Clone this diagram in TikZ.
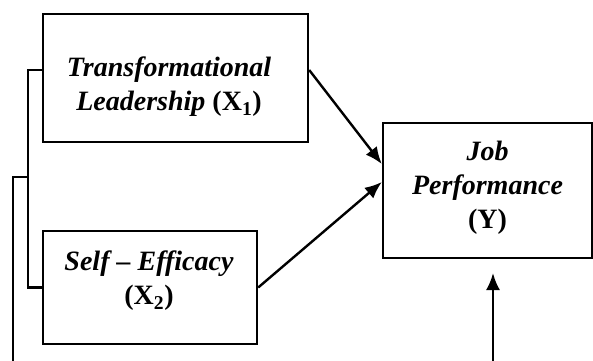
\documentclass[tikz,border=0pt]{standalone}
\usepackage{fontspec}
\setmainfont{Liberation Serif}
\usetikzlibrary{arrows.meta,calc}

\tikzset{
  varbox/.style={draw=black, line width=2.4pt, fill=none, inner sep=0pt},
  vartext/.style={align=center, inner sep=0pt,
    font=\fontsize{28pt}{34pt}\selectfont\bfseries},
  link/.style={line width=2.4pt},
  arr/.style={line width=2.4pt, -{Latex[length=17pt,width=14pt]}}
}

\begin{document}
\begin{tikzpicture}[x=1pt, y=-1pt]
  \useasboundingbox (0,0) rectangle (593,360);
  \clip (0,0) rectangle (593,360);

  % variable boxes
  \node[varbox, minimum width=265pt, minimum height=128pt] (lead) at (175.5,78) {};
  \node[varbox, minimum width=214pt, minimum height=113pt] (self) at (150,287.5) {};
  \node[varbox, minimum width=209pt, minimum height=135pt] (perf) at (487.5,190.5) {};

  % box texts
  \node[vartext] (leadtxt) at (169,87) {\textit{Transformational}\\\textit{Leadership} (X\textsubscript{1})};
  \node[vartext] (selftxt) at (149,281) {\textit{Self – Efficacy}\\(X\textsubscript{2})};
  \node[vartext] (perftxt) at (487.5,188) {\textit{Job}\\\textit{Performance}\\(Y)};

  % direct effects
  \draw[arr] ([yshift=8pt]lead.east) -- ([yshift=26.5pt]perf.west);
  \draw[arr] (self.east) -- ([yshift=8.5pt]perf.west);

  % bracket joining the two predictors
  \draw[link] ([yshift=8pt]lead.west) -- ++(-14,0) coordinate (brk) |- (self.west);

  % joint path running below the figure
  \coordinate (jointTop) at (13,177);
  \coordinate (jointBase) at (13,372);
  \coordinate (feedBase) at (493,372);
  \coordinate (feedTip) at (493,273);
  \draw[link] (brk |- jointTop) -- (jointTop) -- (jointBase);
  \draw[arr] (feedBase) -- (feedTip);
\end{tikzpicture}
\end{document}
